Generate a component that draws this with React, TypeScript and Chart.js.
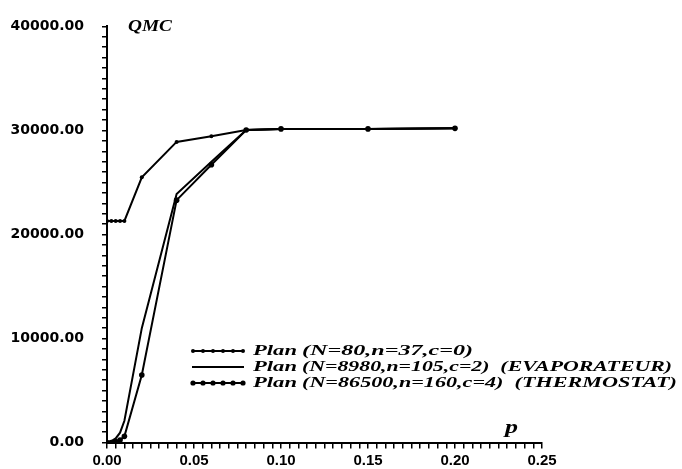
import React, { useEffect, useRef } from 'react';
import { Chart, registerables } from 'chart.js';

Chart.register(...registerables);

// ---- data ----
const p1 = [0, 0.0025, 0.005, 0.0075, 0.01, 0.02, 0.04, 0.06, 0.08, 0.1, 0.15, 0.2];
const q1 = [21300, 21300, 21300, 21300, 21300, 25500, 28900, 29450, 30050, 30150, 30150, 30200];

const p2 = [0, 0.0025, 0.005, 0.0075, 0.01, 0.02, 0.04, 0.06, 0.08, 0.1, 0.15, 0.2];
const q2 = [0, 150, 400, 950, 2100, 11000, 23900, 27000, 30050, 30150, 30150, 30200];

const p3 = [0, 0.0025, 0.005, 0.0075, 0.01, 0.02, 0.04, 0.06, 0.08, 0.1, 0.15, 0.2];
const q3 = [0, 0, 100, 250, 600, 6500, 23300, 26700, 30050, 30150, 30150, 30200];

const legendNames = ['Plan', 'Plan', 'Plan'];
const legendParams = [
  '(N=80,n=37,c=0)',
  '(N=8980,n=105,c=2)  (EVAPORATEUR)',
  '(N=86500,n=160,c=4)  (THERMOSTAT)',
];
const legendMarkers = [2, 0, 2.6];

const yTitle = 'QMC';
const xTitle = 'p';

const xMin = 0, xMax = 0.25, xStep = 0.005, xMajor = 0.05;
const yMin = 0, yMax = 40000, yStep = 1000, yMajor = 10000;

const toPts = (xs: number[], ys: number[]) => xs.map((x, i) => ({ x, y: ys[i] }));

const serif = '"Liberation Serif", "DejaVu Serif", serif';

function drawScaled(ctx: CanvasRenderingContext2D, text: string, x: number, y: number, font: string, targetW: number | null, sxIn?: number) {
  ctx.save();
  ctx.font = font;
  const w = ctx.measureText(text).width;
  const sx = sxIn ?? (targetW ? targetW / w : 1);
  ctx.translate(x, y);
  ctx.scale(sx, 1);
  ctx.textAlign = 'left';
  ctx.textBaseline = 'middle';
  ctx.fillText(text, 0, 0);
  ctx.restore();
}

const annotPlugin = {
  id: 'annot',
  afterDraw(chart: any) {
    const ctx: CanvasRenderingContext2D = chart.ctx;
    ctx.save();
    ctx.fillStyle = '#000';
    ctx.strokeStyle = '#000';
    // axis titles
    drawScaled(ctx, yTitle, 128, 27, `bold italic 17px ${serif}`, 44);
    drawScaled(ctx, xTitle, 505, 428, `bold italic 19px ${serif}`, 13);

    // legend
    const fontL = `bold italic 15px ${serif}`;
    const rowEnds = [473, 672, 677];
    const rows = [351, 367, 383];
    for (let i = 0; i < 3; i++) {
      const y = rows[i];
      ctx.beginPath();
      ctx.lineWidth = 1.8;
      ctx.moveTo(192, y);
      ctx.lineTo(244, y);
      ctx.stroke();
      if (legendMarkers[i] > 0) {
        for (let k = 0; k < 6; k++) {
          ctx.beginPath();
          ctx.arc(193 + k * 10, y, legendMarkers[i], 0, Math.PI * 2);
          ctx.fill();
        }
      }
      drawScaled(ctx, legendNames[i], 253, y, fontL, 44);
      drawScaled(ctx, legendParams[i], 302, y, fontL, rowEnds[i] - 302);
    }
    ctx.restore();
  },
};

export default function App() {
  const ref = useRef<HTMLCanvasElement>(null);
  useEffect(() => {
    const canvas = ref.current;
    if (!canvas) return;
    const chart = new Chart(canvas, {
      type: 'scatter',
      data: {
        datasets: [
          {
            label: 'Plan (N=80,n=37,c=0)',
            data: toPts(p1, q1),
            showLine: true,
            borderColor: '#000',
            backgroundColor: '#000',
            borderWidth: 2,
            pointRadius: 2,
            pointBorderWidth: 0,
          },
          {
            label: 'Plan (N=8980,n=105,c=2) (EVAPORATEUR)',
            data: toPts(p2, q2),
            showLine: true,
            borderColor: '#000',
            backgroundColor: '#000',
            borderWidth: 2,
            pointRadius: 0,
          },
          {
            label: 'Plan (N=86500,n=160,c=4) (THERMOSTAT)',
            data: toPts(p3, q3),
            showLine: true,
            borderColor: '#000',
            backgroundColor: '#000',
            borderWidth: 2,
            pointRadius: 2.8,
            pointBorderWidth: 0,
          },
        ],
      },
      options: {
        responsive: false,
        animation: false,
        events: [],
        layout: { padding: { top: 21, right: 140, left: 0, bottom: 0 } },
        plugins: { legend: { display: false }, tooltip: { enabled: false } },
        scales: {
          x: {
            type: 'linear',
            min: xMin,
            max: xMax,
            afterFit: (s: any) => { s.height = 25; },
            afterBuildTicks: (s: any) => {
              const t = [];
              for (let i = 0; i <= Math.round((xMax - xMin) / xStep); i++) t.push({ value: xMin + i * xStep });
              s.ticks = t;
            },
            ticks: {
              autoSkip: false,
              maxRotation: 0,
              minRotation: 0,
              padding: 3,
              color: '#000',
              font: { family: '"Liberation Sans", Arial, sans-serif', weight: 'bold', size: 15 },
              callback: (v: any) => {
                const r = Math.round(Number(v) / xStep);
                return r % Math.round(xMajor / xStep) === 0 ? Number(v).toFixed(2) : '';
              },
            },
            grid: { display: true, drawOnChartArea: false, drawTicks: true, tickLength: 6, color: '#000', lineWidth: 1.5 },
            border: { display: true, color: '#000', width: 2 },
          },
          y: {
            type: 'linear',
            min: yMin,
            max: yMax,
            afterFit: (s: any) => { s.width = 107; },
            afterBuildTicks: (s: any) => {
              const t = [];
              for (let i = 0; i <= Math.round((yMax - yMin) / yStep); i++) t.push({ value: yMin + i * yStep });
              s.ticks = t;
            },
            ticks: {
              autoSkip: false,
              padding: 18,
              color: '#000',
              font: { family: '"DejaVu Sans", sans-serif', weight: 'bold', size: 14 },
              callback: (v: any) => (Math.round(Number(v)) % yMajor === 0 ? Number(v).toFixed(2) : ''),
            },
            grid: { display: true, drawOnChartArea: false, drawTicks: true, tickLength: 5, color: '#000', lineWidth: 1.5 },
            border: { display: true, color: '#000', width: 2 },
          },
        },
      },
      plugins: [annotPlugin],
    } as any);
    return () => chart.destroy();
  }, []);
  return (
    <div style={{ position: 'absolute', left: 0, top: 0, width: 682, height: 469, background: '#fff' }}>
      <canvas ref={ref} width={682} height={469} style={{ display: 'block' }} />
    </div>
  );
}
